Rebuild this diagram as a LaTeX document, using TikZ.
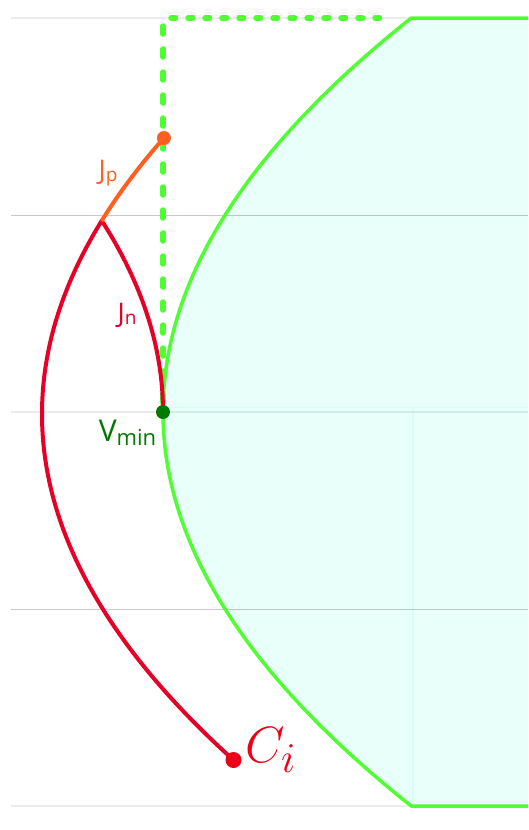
\documentclass[tikz,border=0pt]{standalone}
\usepackage{fontspec}
\setsansfont{Open Sans}
\usepackage{xcolor}
\usetikzlibrary{positioning}

\definecolor{boundgreen}{RGB}{80,255,50}
\definecolor{regionfill}{RGB}{232,255,250}
\definecolor{seamcyan}{RGB}{214,255,246}
\definecolor{jnred}{RGB}{230,0,40}
\definecolor{jporange}{RGB}{255,96,32}
\definecolor{vmingreen}{RGB}{0,122,0}
\definecolor{cired}{RGB}{238,0,25}

\newcommand{\lowsub}[2]{\raisebox{-#1}{\fontsize{19}{19}\selectfont #2}}

\begin{document}
\begin{tikzpicture}[x=1pt, y=-1pt,
    gridline/.style={line width=1pt, draw=black, draw opacity=0.21},
    gridfaint/.style={line width=1.5pt, draw=black, draw opacity=0.08},
    front/.style={draw=boundgreen, line width=3.5pt, line join=round},
    dashfront/.style={draw=boundgreen, line width=5.5pt, line cap=round},
    jcurve/.style={line width=4pt, line join=miter},
    dot/.style={circle, inner sep=0pt, minimum size=#1},
    lbl/.style={font=\sffamily\fontsize{27}{27}\selectfont, inner sep=0pt}
  ]
  \useasboundingbox (0,0) rectangle (528,830);

  % feasible region
  \fill[regionfill] plot[domain=18:806, samples=90, smooth] ({163+(0.04*(\x-412))^2},\x)
    -- (528,806) -- (528,18) -- cycle;
  \draw[seamcyan, line width=1pt] (165,407) -- (528,407);
  \draw[seamcyan, line width=1.2pt] (413,407) -- (413,804);

  % grid
  \draw[gridfaint] (11,18) -- (528,18);
  \draw[gridline]  (11,215) -- (528,215);
  \draw[gridfaint] (11,412) -- (528,412);
  \draw[gridline]  (11,609) -- (528,609);
  \draw[gridfaint] (11,806) -- (528,806);

  \coordinate (vmin) at (163,412);
  \coordinate (cusp) at (102,221);
  \coordinate (ci)   at (233.5,760);
  \coordinate (jp)   at (163.9,138);

  % boundary and dashed bound
  \draw[front] (528,18) -- plot[domain=18:806, samples=90, smooth] ({163+(0.04*(\x-412))^2},\x) -- (528,806);
  \draw[dashfront, dash pattern=on 8pt off 15pt] (163,26) -- (vmin);
  \draw[dashfront, dash pattern=on 4.5pt off 12.5pt] (171,18) -- (383,18);

  % trajectories
  \draw[jcurve, jnred] plot[domain=760:221, samples=60, smooth] ({42+(0.04*(\x-414))^2},\x)
    -- plot[domain=221:412, samples=40, smooth] ({163-(0.0409*(412-\x))^2},\x);
  \draw[jcurve, jporange] plot[domain=221:138, samples=20, smooth] ({42+(0.04*(\x-414))^2},\x);

  \node[dot=14pt, fill=jporange]  (jpdot)   at (jp) {};
  \node[dot=14pt, fill=vmingreen] (vmindot) at (vmin) {};
  \node[dot=16pt, fill=cired]     (cidot)   at (ci) {};

  \node[lbl, text=jporange]  (jplabel)   at (108,173) {J\lowsub{2pt}{p}};
  \node[lbl, text=jnred]     (jnlabel)   at (127,315) {J\lowsub{2pt}{n}};
  \node[lbl, text=vmingreen, font=\sffamily\fontsize{30}{30}\selectfont] (vminlabel) at (127.5,433)
    {V\raisebox{-4pt}{\fontsize{22}{22}\selectfont min}};
  \node[text=cired, inner sep=0pt, anchor=base west, font=\Huge, scale=2.05] (cilabel) at (245,762) {$C_i$};
\end{tikzpicture}
\end{document}
